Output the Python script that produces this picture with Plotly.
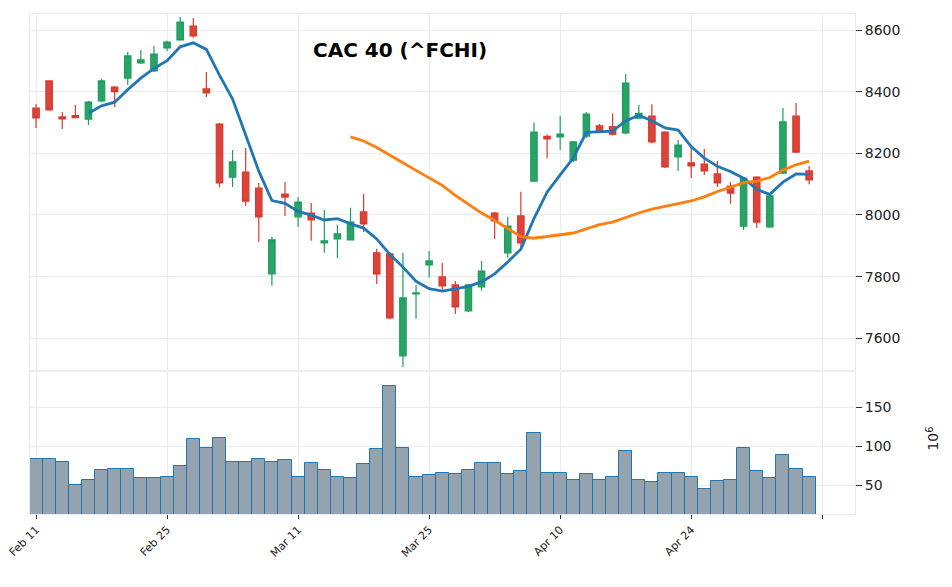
import plotly.graph_objects as go
import pandas as pd

opens  = [8347,8435,8318,8322,8311,8370,8415,8444,8493,8467,8542,8568,8613,8409,8295,8123,8139,8087,7809,8068,
          7994,8006,7909,7922,7919,8010,7877,7874,7543,7744,7838,7799,7773,7689,7767,8006,7877,7997,8110,8255,
          8253,8178,8256,8289,8287,8266,8314,8321,8269,8188,8169,8165,8133,8094,7964,8123,7961,8136,8321,8143]
highs  = [8360,8437,8334,8357,8370,8442,8418,8529,8535,8548,8565,8642,8639,8464,8298,8211,8217,8104,7929,8107,
          8058,8039,8016,7968,8023,8068,7890,7880,7877,7773,7883,7844,7786,7776,7851,8010,7994,8075,8300,8262,
          8321,8240,8333,8295,8330,8457,8357,8359,8272,8243,8220,8214,8175,8107,8120,8126,8065,8347,8363,8159]
lows   = [8282,8338,8279,8315,8292,8366,8350,8422,8490,8464,8532,8565,8575,8383,8090,8091,8029,7912,7770,7997,
          7961,7916,7877,7860,7919,7945,7776,7662,7507,7663,7796,7757,7679,7685,7754,7922,7861,7887,8107,8184,
          8211,8172,8250,8265,8258,8262,8311,8233,8152,8143,8120,8130,8091,8036,7951,7958,7958,8133,8201,8100]
closes = [8315,8341,8312,8316,8366,8435,8400,8516,8503,8522,8561,8626,8581,8396,8104,8172,8045,7994,7919,8058,
          8042,7984,7916,7939,7977,7971,7809,7666,7731,7747,7851,7770,7702,7773,7818,7981,7964,7909,8269,8247,
          8262,8237,8327,8272,8262,8428,8330,8237,8156,8227,8159,8143,8104,8071,8120,7977,8062,8302,8204,8114]
volumes = [83,84,80,50,57,69,71,71,59,59,61,75,109,97,111,80,80,83,80,82,
           61,79,70,60,59,77,96,177,98,61,63,66,64,70,79,78,64,68,117,65,
           66,56,64,56,61,94,57,54,66,66,60,45,55,56,98,68,59,88,71,60]
tick_pos = [0,10,20,30,40,50,60]
tick_labels = ["Feb 11","Feb 25","Mar 11","Mar 25","Apr 10","Apr 24",""]

x = list(range(len(closes)))
ma5 = pd.Series(closes).rolling(5).mean()
ma25 = pd.Series(closes).rolling(25).mean()

fig = go.Figure()
fig.add_trace(go.Candlestick(x=x, open=opens, high=highs, low=lows, close=closes,
    increasing=dict(line=dict(color="#1e9e5e", width=1.2), fillcolor="rgba(30,158,94,0.95)"),
    decreasing=dict(line=dict(color="#d93a30", width=1.2), fillcolor="rgba(217,58,48,0.95)"),
    whiskerwidth=0, xaxis="x", yaxis="y", showlegend=False))
fig.add_trace(go.Scatter(x=x, y=ma5, mode="lines", line=dict(color="#1f77b4", width=2.8),
    xaxis="x", yaxis="y", showlegend=False))
fig.add_trace(go.Scatter(x=x, y=ma25, mode="lines", line=dict(color="#ff7f0e", width=2.8),
    xaxis="x", yaxis="y", showlegend=False))
fig.add_trace(go.Bar(x=x, y=volumes, marker=dict(color="#95a3ae", line=dict(color="#1f77b4", width=1)),
    width=1.0, xaxis="x2", yaxis="y2", showlegend=False))

grid = "#e8edf3"
common_x = dict(range=[-0.46, 62.5], tickmode="array", tickvals=tick_pos, showgrid=True, gridcolor=grid,
                zeroline=False, showline=True, linecolor=grid, mirror=True, automargin=False,
                ticklabeloverflow="allow")
common_y = dict(side="right", ticks="outside", ticklen=6, tickcolor="#333", showgrid=True, gridcolor=grid,
                zeroline=False, showline=True, linecolor=grid, mirror=True, automargin=False)
fig.update_layout(
    width=944, height=579, margin=dict(l=22, r=97, t=6, b=73, autoexpand=False),
    plot_bgcolor="white", paper_bgcolor="white",
    font=dict(family="DejaVu Sans", size=14, color="#222"),
    bargap=0,
    xaxis=dict(common_x, domain=[0,1], anchor="y", showticklabels=False, rangeslider=dict(visible=False),
               ticks="", matches="x2"),
    xaxis2=dict(common_x, domain=[0,1], anchor="y2", ticktext=tick_labels, tickangle=-45,
                ticks="outside", ticklen=4, tickcolor="#333", tickfont=dict(size=11)),
    yaxis=dict(common_y, domain=[0.288, 1], range=[7497, 8652], tickvals=[7600,7800,8000,8200,8400,8600]),
    yaxis2=dict(common_y, domain=[0, 0.284], range=[13, 195], tickvals=[50,100,150]),
    annotations=[
        dict(text="<b>CAC 40 (^FCHI)</b>", x=0.448, y=0.927, xref="paper", yref="paper",
             xanchor="center", yanchor="middle", showarrow=False, font=dict(size=20, color="#000")),
        dict(text="10<sup>6</sup>", xref="paper", yref="paper", x=1.094, y=0.15, textangle=-90,
             xanchor="center", yanchor="middle", showarrow=False, font=dict(size=14)),
    ],
)
fig.write_html("out.html")
